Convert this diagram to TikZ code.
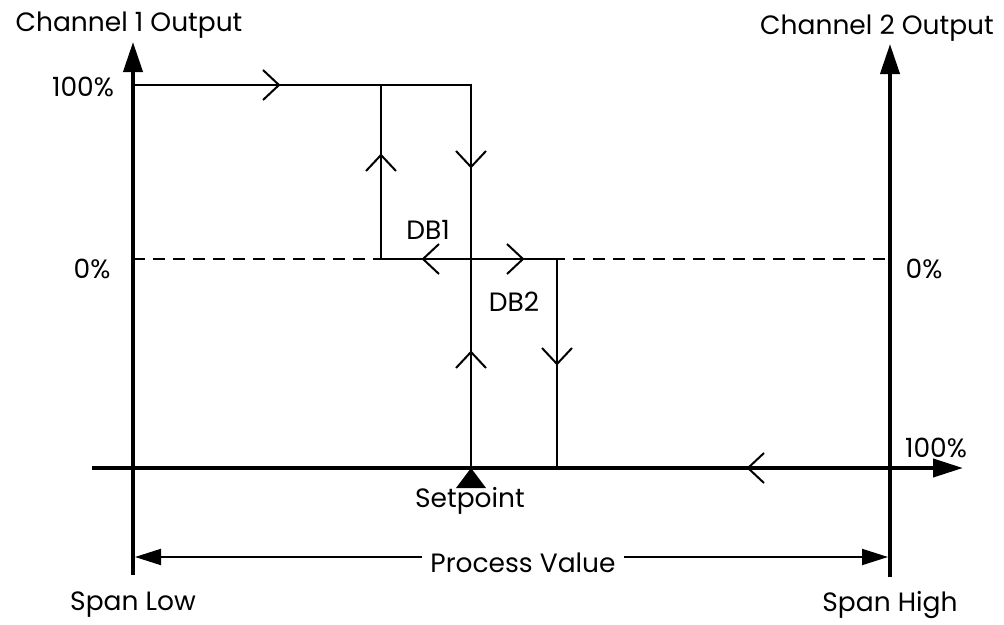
\documentclass[tikz,border=0pt]{standalone}
\usepackage{fontspec}
\setmainfont{Poppins}
\usetikzlibrary{arrows.meta}
\begin{document}
\begin{tikzpicture}[x=1pt,y=-1pt,
  thinl/.style={line width=2pt, line join=miter},
  axis/.style={line width=4pt},
  lbl/.style={font=\fontsize{26.5}{28}\selectfont, inner sep=0pt, anchor=base},
  chev/.pic={\draw[line width=2pt] (-16,-15) -- (0,0) -- (-16,15);}
]
\useasboundingbox (0,0) rectangle (1004,624);
% coordinates
\coordinate (L0) at (133,575); \coordinate (L1) at (133,42);
\coordinate (R0) at (890,577); \coordinate (R1) at (890,44);
\coordinate (X0) at (92,468);  \coordinate (X1) at (963,468);
\coordinate (A) at (133,85);  \coordinate (B) at (381,85);  \coordinate (C) at (471,85);
\coordinate (D) at (381,259); \coordinate (E) at (471,259); \coordinate (F) at (557,259);
\coordinate (G) at (471,468); \coordinate (H) at (557,468);
\coordinate (Z0) at (133,259); \coordinate (Z1) at (890,259);
\coordinate (P0) at (135,557); \coordinate (P1) at (888,557);
% axes
\draw[axis,-{Triangle[length=30pt,width=19pt]}] (L0) -- (L1);
\draw[axis,-{Triangle[length=30pt,width=19pt]}] (R0) -- (R1);
\draw[axis,-{Triangle[length=30pt,width=18pt]}] (X0) -- (X1);
% dashed zero line
\draw[thinl, dash pattern=on 12pt off 8pt] (Z0) -- (Z1);
% hysteresis paths
\draw[thinl] (A) -- (C) -- (G);
\draw[thinl] (B) -- (D) -- (F) -- (H);
% chevrons
\pic at (279,85) {chev};
\pic[rotate=90] at (381,155) {chev};
\pic[rotate=-90] at (471,167) {chev};
\pic[rotate=180] at (423,259) {chev};
\pic at (523,259) {chev};
\pic[rotate=90] at (471,352) {chev};
\pic[rotate=-90] at (557,364) {chev};
\pic[rotate=180] at (748,468) {chev};
% setpoint marker
\fill (G) -- (456,488) -- (486,488) -- cycle;
% process value arrow
\draw[thinl,{Triangle[length=26pt,width=16pt]}-{Triangle[length=26pt,width=16pt]}] (P0) -- (P1);
\node[lbl, fill=white, inner xsep=8pt, inner ysep=4pt] (pv) at (523,572) {Process Value};
% labels
\node[lbl] (c1) at (129,31) {Channel 1 Output};
\node[lbl] (c2) at (877,34) {Channel 2 Output};
\node[lbl] (h1) at (83,96) {100\%};
\node[lbl] (z1) at (92,278) {0\%};
\node[lbl] (z2) at (924,278) {0\%};
\node[lbl] (h2) at (936,457) {100\%};
\node[lbl] (db1) at (428,239) {DB1};
\node[lbl] (db2) at (514,311) {DB2};
\node[lbl] (sp) at (470,507) {Setpoint};
\node[lbl] (sl) at (133,610) {Span Low};
\node[lbl] (sh) at (890,611) {Span High};
\end{tikzpicture}
\end{document}
